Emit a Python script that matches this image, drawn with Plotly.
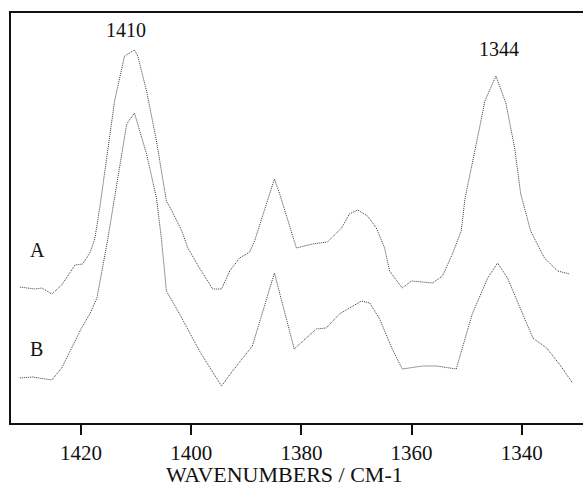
import plotly.graph_objects as go

# Spectrum A (upper trace)
wn_a = [1431.1, 1428.4, 1427.1, 1425.3, 1423.5, 1421.1, 1419.7, 1418.4, 1417.5, 1416.6,
        1413.9, 1412.1, 1410.3, 1409.7, 1408.1, 1406.3, 1404.5, 1403.5, 1401.7, 1400.6,
        1398.5, 1396.1, 1394.5, 1393.0, 1391.2, 1389.4, 1388.5, 1387.6, 1384.9, 1384.0,
        1381.6, 1380.9, 1378.0, 1375.3, 1372.7, 1371.3, 1369.8, 1368.0, 1366.4, 1364.9,
        1364.0, 1361.7, 1360.0, 1356.2, 1354.4, 1352.6, 1351.0, 1350.3, 1347.9, 1346.7,
        1344.7, 1342.9, 1341.3, 1340.2, 1338.4, 1335.9, 1333.5, 1331.3]
abs_a = [1.36, 1.34, 1.35, 1.29, 1.38, 1.58, 1.59, 1.70, 1.84, 2.15,
         3.22, 3.67, 3.73, 3.67, 3.32, 2.82, 2.22, 2.12, 1.92, 1.75,
         1.55, 1.34, 1.34, 1.52, 1.65, 1.71, 1.82, 1.97, 2.44, 2.30,
         1.89, 1.75, 1.79, 1.81, 1.95, 2.09, 2.13, 2.07, 1.95, 1.75,
         1.52, 1.35, 1.42, 1.40, 1.47, 1.69, 1.92, 2.25, 2.89, 3.22,
         3.47, 3.20, 2.75, 2.29, 1.92, 1.65, 1.52, 1.49]

# Spectrum B (lower trace)
wn_b = [1431.1, 1428.8, 1425.3, 1423.5, 1421.7, 1419.9, 1418.4, 1417.1, 1415.2, 1413.9,
        1411.7, 1410.3, 1409.4, 1408.1, 1406.3, 1405.4, 1404.5, 1402.1, 1398.5, 1394.5,
        1392.5, 1388.9, 1384.9, 1381.3, 1377.3, 1375.5, 1373.1, 1369.1, 1367.6, 1365.8,
        1363.6, 1361.7, 1358.0, 1355.5, 1351.9, 1349.0, 1346.2, 1344.4, 1342.6, 1340.4,
        1338.0, 1335.5, 1333.2, 1330.8]
abs_b = [0.45, 0.46, 0.43, 0.55, 0.75, 0.95, 1.09, 1.25, 1.82, 2.25,
         2.99, 3.10, 2.94, 2.69, 2.25, 1.84, 1.32, 1.09, 0.72, 0.37,
         0.52, 0.77, 1.50, 0.74, 0.94, 0.95, 1.09, 1.22, 1.20, 1.04,
         0.75, 0.54, 0.57, 0.57, 0.54, 1.09, 1.45, 1.60, 1.45, 1.17,
         0.85, 0.75, 0.59, 0.40]

tick_vals = [1420, 1400, 1380, 1360, 1340]
peak_labels = ["1410", "1344"]
peak_pos = [(1411.9, 3.93), (1344.2, 3.74)]
trace_labels = ["A", "B"]
trace_label_pos = [(1427.9, 1.73), (1428.0, 0.74)]
x_title = "WAVENUMBERS / CM-1"

FONT = "Liberation Serif, Times New Roman, serif"

fig = go.Figure()
line_style = dict(color="#3a3a3a", width=1, dash="1px,1px")
fig.add_trace(go.Scatter(x=wn_a, y=abs_a, mode="lines", line=line_style, showlegend=False))
fig.add_trace(go.Scatter(x=wn_b, y=abs_b, mode="lines", line=line_style, showlegend=False))

for txt, (x, y) in zip(peak_labels + trace_labels, peak_pos + trace_label_pos):
    fig.add_annotation(x=x, y=y, text=txt, showarrow=False,
                       font=dict(family=FONT, size=20, color="#111111"))

fig.add_annotation(xref="paper", yref="paper", x=0.478, y=-0.1265, yanchor="middle",
                   text=x_title, showarrow=False,
                   font=dict(family=FONT, size=22, color="#111111"))

fig.update_layout(
    width=583, height=482,
    margin=dict(l=11, r=0, t=13, b=59),
    paper_bgcolor="white", plot_bgcolor="white",
    font=dict(family=FONT, color="#111111"),
    xaxis=dict(
        range=[1432.7, 1328.9], tickvals=tick_vals,
        ticks="outside", ticklen=10, tickwidth=1.5, tickcolor="#111111",
        showline=True, linewidth=2, linecolor="#111111", mirror=True,
        showgrid=False, zeroline=False,
        tickfont=dict(family=FONT, size=21),
    ),
    yaxis=dict(
        range=[0, 4.1], showticklabels=False, ticks="",
        showline=True, linewidth=2, linecolor="#111111", mirror=False,
        showgrid=False, zeroline=False,
    ),
)

fig.write_html(
    "out.html",
    config={"displayModeBar": False},
    post_script="document.body.style.margin='0';document.body.style.overflow='hidden';",
)
